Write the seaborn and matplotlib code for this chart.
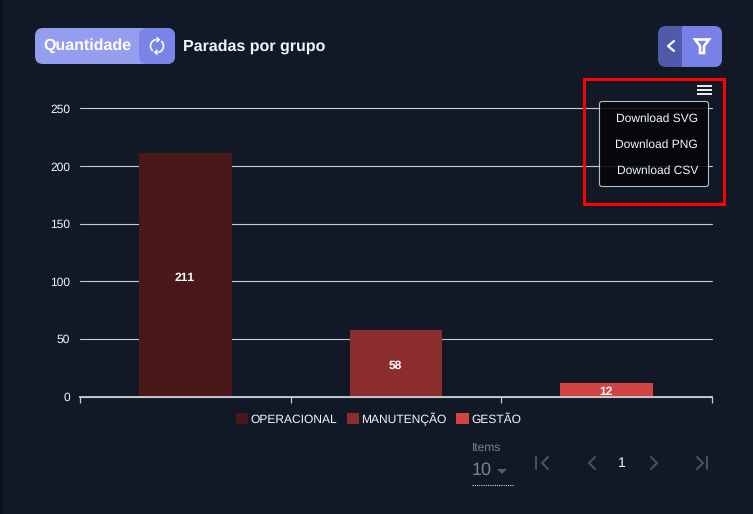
import numpy as np
import pandas as pd
import seaborn as sns
import matplotlib.pyplot as plt
from matplotlib.patches import FancyBboxPatch, Rectangle, Polygon, Arc

grupos = ['OPERACIONAL', 'MANUTENÇÃO', 'GESTÃO']
quantidade = [211, 58, 12]
cores = ['#4a1818', '#8c2e2e', '#d24444']
y_ticks = [0, 50, 100, 150, 200, 250]
menu_items = ['Download SVG', 'Download PNG', 'Download CSV']

BG = '#111927'
TXT = '#f2f6fb'
W, H = 753, 514


def px(x0, x1, y0, y1):
    # axes rect from pixel edges
    return [x0 / W, 1 - y1 / H, (x1 - x0) / W, (y1 - y0) / H]


def round_box(ov, x, y, w, h, color, r=7, **kw):
    box = FancyBboxPatch((x + r, y + r), w - 2 * r, h - 2 * r,
                         boxstyle=f'round,pad={r},rounding_size={r}',
                         fc=color, ec=kw.pop('ec', 'none'), **kw)
    ov.add_patch(box)


sns.set_theme(style='dark')
plt.rcParams['font.family'] = ['Liberation Sans', 'DejaVu Sans']
plt.rcParams['text.hinting'] = 'none'
plt.rcParams['text.hinting_factor'] = 1

df = pd.DataFrame({'grupo': grupos, 'quantidade': quantidade})

fig = plt.figure(figsize=(W / 100, H / 100), dpi=100, facecolor=BG)
ax = fig.add_axes(px(80, 712, 108.5, 396.5))
ax.set_facecolor(BG)

sns.barplot(data=df, x='grupo', y='quantidade', hue='grupo', order=grupos, hue_order=grupos,
            palette=cores, dodge=False, width=0.44, saturation=1, legend=True, ax=ax, zorder=3,
            linewidth=0, edgecolor='none')

ax.set_xlim(-0.5, 2.5)
ax.set_ylim(0, 250)
ax.set_yticks(y_ticks)
ax.set_xticks([-0.5, 0.5, 1.5, 2.5])
ax.set_xticklabels([])
ax.set_xlabel('')
ax.set_ylabel('')
ax.yaxis.grid(True, color='#c9cbcf', lw=0.8, zorder=1, clip_on=False)
ax.xaxis.grid(False)
ax.set_axisbelow(True)
ax.tick_params(axis='y', length=0, pad=7, labelsize=8.3, labelcolor=TXT)
ax.tick_params(axis='x', length=4.5, width=0.9, color='#c9cbcf', bottom=True)
for side in ['top', 'right', 'left']:
    ax.spines[side].set_visible(False)
ax.spines['bottom'].set_color('#c9cbcf')
ax.spines['bottom'].set_linewidth(1.3)
ax.spines['bottom'].set_zorder(5)

for cont in ax.containers:
    for t in ax.bar_label(cont, label_type='center', color='white', fontsize=8.6, fontweight='bold', zorder=6):
        t.xyann = (-0.5, -2)

leg = ax.legend(loc='center', bbox_to_anchor=(378.5 / W, 1 - 419 / H), bbox_transform=fig.transFigure,
                ncol=3, frameon=False, fontsize=8.7, handlelength=1.0, handleheight=1.0,
                handletextpad=0.2, columnspacing=0.8, borderpad=0, labelcolor=TXT)

# overlay in pixel coordinates for the page widgets around the chart
ov = fig.add_axes([0, 0, 1, 1], zorder=10)
ov.set_xlim(0, W)
ov.set_ylim(H, 0)
ov.axis('off')
ov.patch.set_alpha(0)

ov.add_patch(Rectangle((0, 0), 3, H, fc='#0b0f19', ec='none'))

# Quantidade toggle
round_box(ov, 35, 28, 140, 36, '#959dee', r=8)
round_box(ov, 139, 28, 36, 36, '#7a84e8', r=8)
ov.text(87, 46, 'Quantidade', color='white', fontsize=11.7, fontweight='bold', ha='center', va='center')
ov.text(183, 46.5, 'Paradas por grupo', color=TXT, fontsize=11.5, fontweight='bold', ha='left', va='center')

# refresh icon
ov.add_patch(Arc((157, 46), 13, 13, theta1=130, theta2=260, color='white', lw=1.2))
ov.add_patch(Arc((157, 46), 13, 13, theta1=310, theta2=440, color='white', lw=1.2))
ov.add_patch(Polygon([[156.5, 36.5], [160.5, 39.7], [156.5, 43]], fc='white', ec='none'))
ov.add_patch(Polygon([[157.5, 49], [153.5, 52.3], [157.5, 55.5]], fc='white', ec='none'))

# filter button
round_box(ov, 658, 26, 64, 41, '#5159a9', r=8)
round_box(ov, 682, 26, 40, 41, '#7781e6', r=8)
ov.add_patch(Rectangle((682, 26), 10, 41, fc='#7781e6', ec='none'))
ov.plot([674, 668, 674], [41, 46, 51], color='white', lw=1.6, solid_capstyle='round')
ov.add_patch(Polygon([[695, 39.5], [709, 39.5], [704, 46], [704, 53], [700, 53], [700, 46]],
                     fc='none', ec='white', lw=1.9, joinstyle='miter'))

# export menu
ov.add_patch(Rectangle((584.5, 78.5), 140, 125, fc='none', ec='#ff0000', lw=2.2))
for yy in [86, 90, 94]:
    ov.plot([697, 712], [yy, yy], color='white', lw=1.3, solid_capstyle='butt')
round_box(ov, 599.5, 101.5, 109, 85, '#05060b', r=2.5, ec='#d5d7da', lw=0.8, alpha=0.88)
for label, yy in zip(menu_items, [118, 144, 170]):
    ov.text(698, yy + 0.5, label, color=TXT, fontsize=8.6, ha='right', va='center')

# pagination
ov.text(472, 448, 'Items', color='#7e848d', fontsize=8.8, ha='left', va='center')
ov.text(472, 470, '10', color='#7e848d', fontsize=12.8, ha='left', va='center')
ov.add_patch(Polygon([[497, 469], [507, 469], [502, 474]], fc='#565b65', ec='none'))
ov.plot([472, 514], [485, 485], color='#d5d7da', lw=0.8, ls=(0, (1, 1)))
ov.text(622, 463, '1', color=TXT, fontsize=10, ha='center', va='center')

grey = '#4b505b'
ov.plot([536.5, 536.5], [457, 469], color=grey, lw=1.5)
ov.plot([548, 542, 548], [457, 463, 469], color=grey, lw=1.5)
ov.plot([595, 589, 595], [457, 463, 469], color=grey, lw=1.5)
ov.plot([651, 657, 651], [457, 463, 469], color=grey, lw=1.5)
ov.plot([697, 703, 697], [457, 463, 469], color=grey, lw=1.5)
ov.plot([707.5, 707.5], [457, 469], color=grey, lw=1.5)

fig.savefig('out.png', dpi=100, facecolor=BG)
